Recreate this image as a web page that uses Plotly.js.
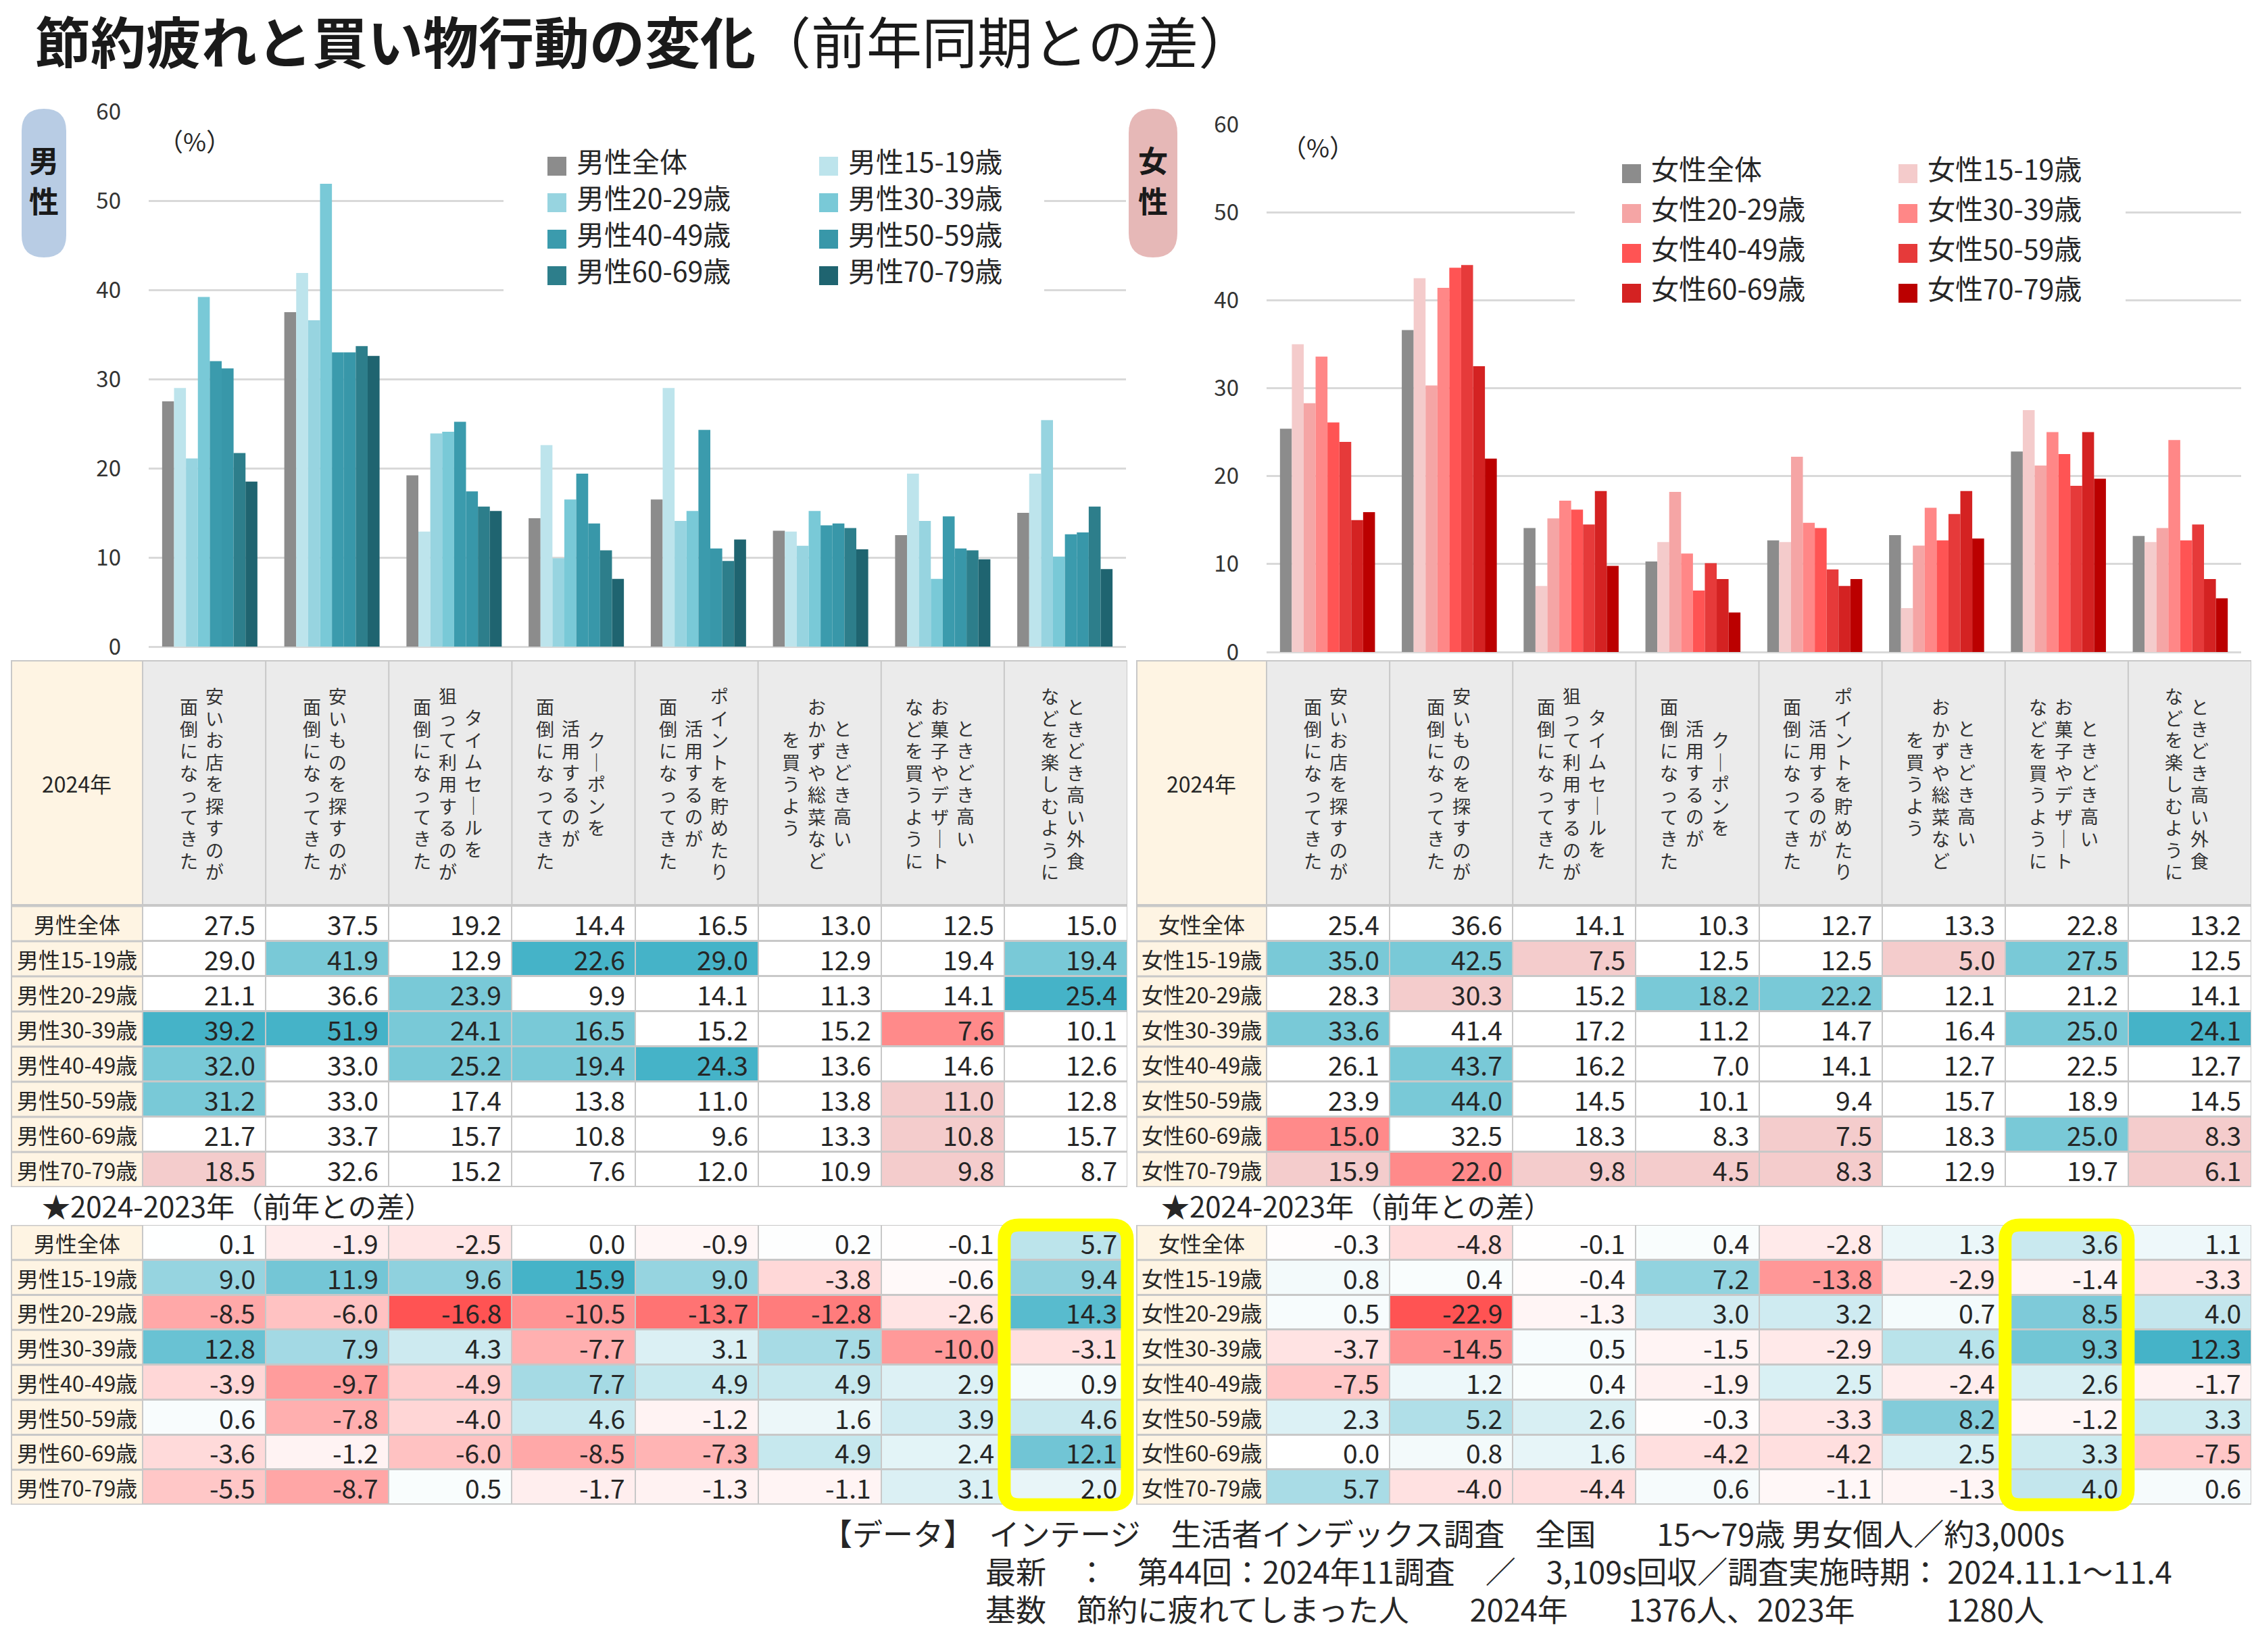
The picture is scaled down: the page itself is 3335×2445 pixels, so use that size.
<!DOCTYPE html>
<html><head><meta charset="utf-8">
<script src="https://cdn.plot.ly/plotly-3.0.1.min.js"></script>
<style>html,body{margin:0;padding:0;background:#fff}</style>
</head><body><div id="chart" style="width:3335px;height:2445px"></div>
<script>
// ---------------- DATA ----------------
const titleBold = "節約疲れと買い物行動の変化";
const titleRest = "（前年同期との差）";
const categories = [
  "安いお店を探すのが面倒になってきた",
  "安いものを探すのが面倒になってきた",
  "タイムセールを狙って利用するのが面倒になってきた",
  "クーポンを活用するのが面倒になってきた",
  "ポイントを貯めたり活用するのが面倒になってきた",
  "ときどき高いおかずや総菜などを買うよう",
  "ときどき高いお菓子やデザートなどを買うように",
  "ときどき高い外食などを楽しむように"
];
// header lines, written vertically, first line is the rightmost
const headerLines = [
  ["安いお店を探すのが","面倒になってきた"],
  ["安いものを探すのが","面倒になってきた"],
  ["タイムセールを","狙って利用するのが","面倒になってきた"],
  ["クーポンを","活用するのが","面倒になってきた"],
  ["ポイントを貯めたり","活用するのが","面倒になってきた"],
  ["ときどき高い","おかずや総菜など","を買うよう"],
  ["ときどき高い","お菓子やデザート","などを買うように"],
  ["ときどき高い外食","などを楽しむように"]
];
const maleGroups = ["男性全体","男性15-19歳","男性20-29歳","男性30-39歳","男性40-49歳","男性50-59歳","男性60-69歳","男性70-79歳"];
const femaleGroups = ["女性全体","女性15-19歳","女性20-29歳","女性30-39歳","女性40-49歳","女性50-59歳","女性60-69歳","女性70-79歳"];
const yTickVals = [0,10,20,30,40,50,60];
const tableYearLabel = "2024年";
const diffTitle = "★2024-2023年（前年との差）";
const pctLabel = "（%）";

const male2024 = [
  [27.5,37.5,19.2,14.4,16.5,13.0,12.5,15.0],
  [29.0,41.9,12.9,22.6,29.0,12.9,19.4,19.4],
  [21.1,36.6,23.9, 9.9,14.1,11.3,14.1,25.4],
  [39.2,51.9,24.1,16.5,15.2,15.2, 7.6,10.1],
  [32.0,33.0,25.2,19.4,24.3,13.6,14.6,12.6],
  [31.2,33.0,17.4,13.8,11.0,13.8,11.0,12.8],
  [21.7,33.7,15.7,10.8, 9.6,13.3,10.8,15.7],
  [18.5,32.6,15.2, 7.6,12.0,10.9, 9.8, 8.7]
];
const female2024 = [
  [25.4,36.6,14.1,10.3,12.7,13.3,22.8,13.2],
  [35.0,42.5, 7.5,12.5,12.5, 5.0,27.5,12.5],
  [28.3,30.3,15.2,18.2,22.2,12.1,21.2,14.1],
  [33.6,41.4,17.2,11.2,14.7,16.4,25.0,24.1],
  [26.1,43.7,16.2, 7.0,14.1,12.7,22.5,12.7],
  [23.9,44.0,14.5,10.1, 9.4,15.7,18.9,14.5],
  [15.0,32.5,18.3, 8.3, 7.5,18.3,25.0, 8.3],
  [15.9,22.0, 9.8, 4.5, 8.3,12.9,19.7, 6.1]
];
// significance vs 全体: 2 much higher, 1 higher, 0 none, -1 lower, -2 much lower
const maleSig = [
  [0,0,0,0,0,0,0,0],
  [0,1,0,2,2,0,0,1],
  [0,0,1,0,0,0,0,2],
  [2,2,1,1,0,0,-2,0],
  [1,0,1,1,2,0,0,0],
  [1,0,0,0,0,0,-1,0],
  [0,0,0,0,0,0,-1,0],
  [-1,0,0,0,0,0,-1,0]
];
const femaleSig = [
  [0,0,0,0,0,0,0,0],
  [1,1,-1,0,0,-1,1,0],
  [0,-1,0,1,1,0,0,0],
  [1,0,0,0,0,0,1,2],
  [0,1,0,0,0,0,0,0],
  [0,1,0,0,0,0,0,0],
  [-2,0,0,0,-1,0,1,-1],
  [-1,-2,-1,-1,-1,0,0,-1]
];
const maleDiff = [
  [ 0.1,-1.9, -2.5,  0.0, -0.9,  0.2, -0.1, 5.7],
  [ 9.0,11.9,  9.6, 15.9,  9.0, -3.8, -0.6, 9.4],
  [-8.5,-6.0,-16.8,-10.5,-13.7,-12.8, -2.6,14.3],
  [12.8, 7.9,  4.3, -7.7,  3.1,  7.5,-10.0,-3.1],
  [-3.9,-9.7, -4.9,  7.7,  4.9,  4.9,  2.9, 0.9],
  [ 0.6,-7.8, -4.0,  4.6, -1.2,  1.6,  3.9, 4.6],
  [-3.6,-1.2, -6.0, -8.5, -7.3,  4.9,  2.4,12.1],
  [-5.5,-8.7,  0.5, -1.7, -1.3, -1.1,  3.1, 2.0]
];
const femaleDiff = [
  [-0.3, -4.8,-0.1, 0.4, -2.8, 1.3, 3.6, 1.1],
  [ 0.8,  0.4,-0.4, 7.2,-13.8,-2.9,-1.4,-3.3],
  [ 0.5,-22.9,-1.3, 3.0,  3.2, 0.7, 8.5, 4.0],
  [-3.7,-14.5, 0.5,-1.5, -2.9, 4.6, 9.3,12.3],
  [-7.5,  1.2, 0.4,-1.9,  2.5,-2.4, 2.6,-1.7],
  [ 2.3,  5.2, 2.6,-0.3, -3.3, 8.2,-1.2, 3.3],
  [ 0.0,  0.8, 1.6,-4.2, -4.2, 2.5, 3.3,-7.5],
  [ 5.7, -4.0,-4.4, 0.6, -1.1,-1.3, 4.0, 0.6]
];
const maleHighlightCol = 7;
const femaleHighlightCol = 6;
const footerLines = [
  "【データ】　インテージ　生活者インデックス調査　全国　　15～79歳 男女個人／約3,000s",
  "最新　：　第44回：2024年11調査　／　3,109s回収／調査実施時期： 2024.11.1～11.4",
  "基数　節約に疲れてしまった人　　2024年　　1376人、2023年　　　1280人"
];

// ---------------- STYLES ----------------
const maleColors = ["#8C8C8C","#BDE4EC","#97D4E0","#79C9D7","#3B9BAD","#3897A9","#2D7E8B","#1F6470"];
const femaleColors = ["#8C8C8C","#F4CBCB","#F5A5A5","#FF8787","#FF5454","#E63A3A","#D42222","#BB0000"];
const sigScale = [[0,'#FF8A8A'],[0.125,'#FF8A8A'],[0.125,'#F4CCCC'],[0.375,'#F4CCCC'],[0.375,'#FFFFFF'],[0.625,'#FFFFFF'],[0.625,'#79C9D7'],[0.875,'#79C9D7'],[0.875,'#45B3C8'],[1,'#45B3C8']];
const RED = '#FF5353', BLUE = '#45B3C8';
const FONT = "'Noto Sans CJK JP','Noto Sans',sans-serif";
const TXT = '#262626';
const W = 3335, H = 2445;
const px = v => v / W;
const py = v => 1 - v / H;

// ---------------- GEOMETRY ----------------
const T1 = {top:977, headBot:1341, bot:1757, headMid:1159};
const T2 = {titleY:1783, top:1813, bot:2227};
const sides = [
  {groups:maleGroups, v2024:male2024, sig:maleSig, diff:maleDiff, colors:maleColors, hl:maleHighlightCol,
   pillText:['男','性'], pillColor:'#B8CCE4', pill:[32,161,98,381],
   ax:{bar:['x','y'], t1:['x3','y3'], t2:['x5','y5']},
   barX:[220,1666], barY:[165,957], tableL:16, labelR:211, tableR:1668,
   legCols:[810,1212], legRows:[237,291,345,399], legSq:9, legBg:[745,200,1545,445], pct:[232,208], diffTitleX:60},
  {groups:femaleGroups, v2024:female2024, sig:femaleSig, diff:femaleDiff, colors:femaleColors, hl:femaleHighlightCol,
   pillText:['女','性'], pillColor:'#E6B8B7', pill:[1670,161,1742,381],
   ax:{bar:['x2','y2'], t1:['x4','y4'], t2:['x6','y6']},
   barX:[1874,3316], barY:[184,965], tableL:1681, labelR:1874, tableR:3331,
   legCols:[2400,2809], legRows:[248,307,366,425], legSq:9, legBg:[2330,212,3145,462], pct:[1894,217], diffTitleX:1716}
];

const catIdx = categories.map((_, i) => i);
const rowIdx = maleGroups.map((_, i) => i);
const traces = [], shapes = [], annotations = [];
const layout = {
  width: W, height: H, margin:{l:0,r:0,t:0,b:0},
  paper_bgcolor:'#FFFFFF', plot_bgcolor:'rgba(0,0,0,0)',
  font:{family:FONT, color:TXT, size:30},
  showlegend:false, barmode:'group', bargap:0.22, bargroupgap:0,
  hovermode:false
};

function axName(a){ return a.replace('x','xaxis').replace('y','yaxis'); }
function rect(x0,y0,x1,y1,fill,layer){
  shapes.push({type:'rect', xref:'paper', yref:'paper', x0:px(x0), x1:px(x1), y0:py(y1), y1:py(y0),
    fillcolor:fill, line:{width:0}, layer:layer||'below'});
}
function roundPath(x0,y0,x1,y1,r){
  const P = (x,y) => px(x).toFixed(6)+','+py(y).toFixed(6);
  return 'M'+P(x0+r,y0)+' L'+P(x1-r,y0)+' Q'+P(x1,y0)+' '+P(x1,y0+r)+' L'+P(x1,y1-r)+' Q'+P(x1,y1)+' '+P(x1-r,y1)+
         ' L'+P(x0+r,y1)+' Q'+P(x0,y1)+' '+P(x0,y1-r)+' L'+P(x0,y0+r)+' Q'+P(x0,y0)+' '+P(x0+r,y0)+' Z';
}
function text(x,y,t,size,opts){
  annotations.push(Object.assign({xref:'paper', yref:'paper', x:px(x), y:py(y), text:t, showarrow:false,
    xanchor:'center', yanchor:'middle', font:{size:size, color:TXT, family:FONT}}, opts||{}));
}
// stacked (vertical writing) text: one character per line, line pitch = 1.3 x base size
function vtext(x, y, chars, base, glyph, color, bold){
  const t = chars.map(ch => '<span style="font-size:' + glyph + 'px">' + ch + '</span>').join('<br>');
  text(x, y, bold ? '<b>' + t + '</b>' : t, base, {font:{size:base, color:color, family:FONT}});
}
function hidden(domain, range, anchor){
  return {domain:domain, range:range, showticklabels:false, showgrid:false, zeroline:false, showline:false,
          ticks:'', fixedrange:true, anchor:anchor};
}

// main title
text(50, 58, '<b>'+titleBold+'</b>'+titleRest, 82, {xanchor:'left', font:{size:82, color:'#1A1A1A', family:FONT}});

sides.forEach(s => {
  const [bx, by] = s.ax.bar;
  // ---- bars ----
  s.groups.forEach((g, i) => {
    traces.push({type:'bar', x:catIdx, y:s.v2024[i], name:g, xaxis:bx, yaxis:by,
      marker:{color:s.colors[i], line:{width:0}}, hoverinfo:'skip'});
  });
  layout[axName(bx)] = hidden([px(s.barX[0]), px(s.barX[1])], [-0.5, 7.5], by);
  layout[axName(by)] = {domain:[py(s.barY[1]), py(s.barY[0])], range:[0, 60], tickvals:yTickVals,
    showgrid:true, gridcolor:'#D9D9D9', gridwidth:3, zeroline:true, zerolinecolor:'#D9D9D9', zerolinewidth:3,
    showline:false, ticks:'', tickfont:{size:33, color:'#333', family:FONT}, ticklabelstandoff:40,
    fixedrange:true, anchor:bx};

  // pill label
  shapes.push({type:'path', xref:'paper', yref:'paper', path:roundPath(s.pill[0], s.pill[1], s.pill[2], s.pill[3], (s.pill[2]-s.pill[0])/2),
    fillcolor:s.pillColor, line:{width:0}, layer:'below'});
  const pcx = (s.pill[0]+s.pill[2])/2;
  vtext(pcx, 266, s.pillText, 46, 44, '#1A1A1A', true);

  // (%)
  text(s.pct[0], s.pct[1], pctLabel, 37, {xanchor:'left'});

  // legend (manual, 2 columns, row-major)
  rect(s.legBg[0], s.legBg[1], s.legBg[2], s.legBg[3], '#FFFFFF', 'above');
  s.groups.forEach((g, i) => {
    const c = i % 2, r = Math.floor(i / 2);
    const x0 = s.legCols[c], yc = s.legRows[r] + s.legSq;
    rect(x0, yc - 14, x0 + 28, yc + 14, s.colors[i], 'above');
    text(x0 + 41, s.legRows[r], g, 41, {xanchor:'left'});
  });

  // ---- table 1 (2024) ----
  const colW = (s.tableR - s.labelR) / 8;
  const rowH1 = (T1.bot - T1.headBot) / 8;
  rect(s.tableL, T1.top, s.tableR, T1.bot, '#C8C8C8');
  rect(s.tableL + 2, T1.top + 2, s.labelR - 1, T1.headBot - 3, '#FEF4E3');
  text((s.tableL + s.labelR)/2, T1.headMid, tableYearLabel, 32);
  headerLines.forEach((lines, c) => {
    rect(s.labelR + c*colW + 1, T1.top + 2, s.labelR + (c+1)*colW - 1, T1.headBot - 3, '#EBEBEB');
    const cx = s.labelR + (c + 0.5)*colW - 4;
    const n = lines.length;
    lines.forEach((ln, j) => {
      const chars = Array.from(ln).map(ch => ch === 'ー' ? '｜' : ch);
      vtext(cx + ((n-1)/2 - j) * 38, T1.headMid, chars, 25, 27, '#333', false);
    });
  });
  s.groups.forEach((g, r) => {
    rect(s.tableL + 2, T1.headBot + r*rowH1 + 1.5, s.labelR - 1, T1.headBot + (r+1)*rowH1 - 1.5, '#FEF4E3');
  });
  const [t1x, t1y] = s.ax.t1;
  traces.push({type:'heatmap', z:s.sig, x:catIdx, y:rowIdx, xaxis:t1x, yaxis:t1y, colorscale:sigScale,
    zmin:-2, zmax:2, showscale:false, xgap:2, ygap:3, hoverinfo:'skip'});
  layout[axName(t1x)] = hidden([px(s.labelR), px(s.tableR)], [-0.5, 7.5], t1y);
  layout[axName(t1y)] = hidden([py(T1.bot), py(T1.headBot)], [7.5, -0.5], t1x);
  s.v2024.forEach((row, r) => {
    annotations.push({xref:'paper', yref:t1y, x:px((s.tableL + s.labelR)/2), y:r, text:s.groups[r], showarrow:false,
      xanchor:'center', yanchor:'middle', font:{size:32, color:TXT, family:FONT}});
    row.forEach((v, c) => {
      annotations.push({xref:t1x, yref:t1y, x:c + 0.5, y:r, xshift:-13, text:v.toFixed(1), showarrow:false,
        xanchor:'right', yanchor:'middle', font:{size:39, color:TXT, family:FONT}});
    });
  });

  // ---- table 2 (diff) ----
  const rowH2 = (T2.bot - T2.top) / 8;
  text(s.diffTitleX, T2.titleY, diffTitle, 42, {xanchor:'left'});
  rect(s.tableL, T2.top, s.tableR, T2.bot, '#C8C8C8');
  s.groups.forEach((g, r) => {
    rect(s.tableL + 2, T2.top + r*rowH2 + 1.5, s.labelR - 1, T2.top + (r+1)*rowH2 - 1.5, '#FEF4E3');
  });
  const flat = s.diff.flat();
  const zmin = Math.min(...flat), zmax = Math.max(...flat);
  const mid = (0 - zmin) / (zmax - zmin);
  const [t2x, t2y] = s.ax.t2;
  traces.push({type:'heatmap', z:s.diff, x:catIdx, y:rowIdx, xaxis:t2x, yaxis:t2y,
    colorscale:[[0, RED],[mid, '#FFFFFF'],[1, BLUE]], zmin:zmin, zmax:zmax, showscale:false,
    xgap:2, ygap:3, hoverinfo:'skip'});
  layout[axName(t2x)] = hidden([px(s.labelR), px(s.tableR)], [-0.5, 7.5], t2y);
  layout[axName(t2y)] = hidden([py(T2.bot), py(T2.top)], [7.5, -0.5], t2x);
  s.diff.forEach((row, r) => {
    annotations.push({xref:'paper', yref:t2y, x:px((s.tableL + s.labelR)/2), y:r, text:s.groups[r], showarrow:false,
      xanchor:'center', yanchor:'middle', font:{size:32, color:TXT, family:FONT}});
    row.forEach((v, c) => {
      annotations.push({xref:t2x, yref:t2y, x:c + 0.5, y:r, xshift:-13, text:v.toFixed(1), showarrow:false,
        xanchor:'right', yanchor:'middle', font:{size:39, color:TXT, family:FONT}});
    });
  });
  // yellow highlight around one column
  const hx0 = s.labelR + s.hl*colW, hx1 = hx0 + colW;
  shapes.push({type:'path', xref:'paper', yref:'paper', path:roundPath(hx0, T2.top, hx1, T2.bot, 22),
    fillcolor:'rgba(0,0,0,0)', line:{color:'#FFFF00', width:19}, layer:'above'});
});

// footer
text(1214, 2268, footerLines[0], 45, {xanchor:'left'});
text(1456, 2324, footerLines[1], 45, {xanchor:'left'});
text(1456, 2380, footerLines[2], 45, {xanchor:'left'});

layout.shapes = shapes;
layout.annotations = annotations;
Plotly.newPlot('chart', traces, layout, {staticPlot:true, displayModeBar:false});
</script>
</body></html>
